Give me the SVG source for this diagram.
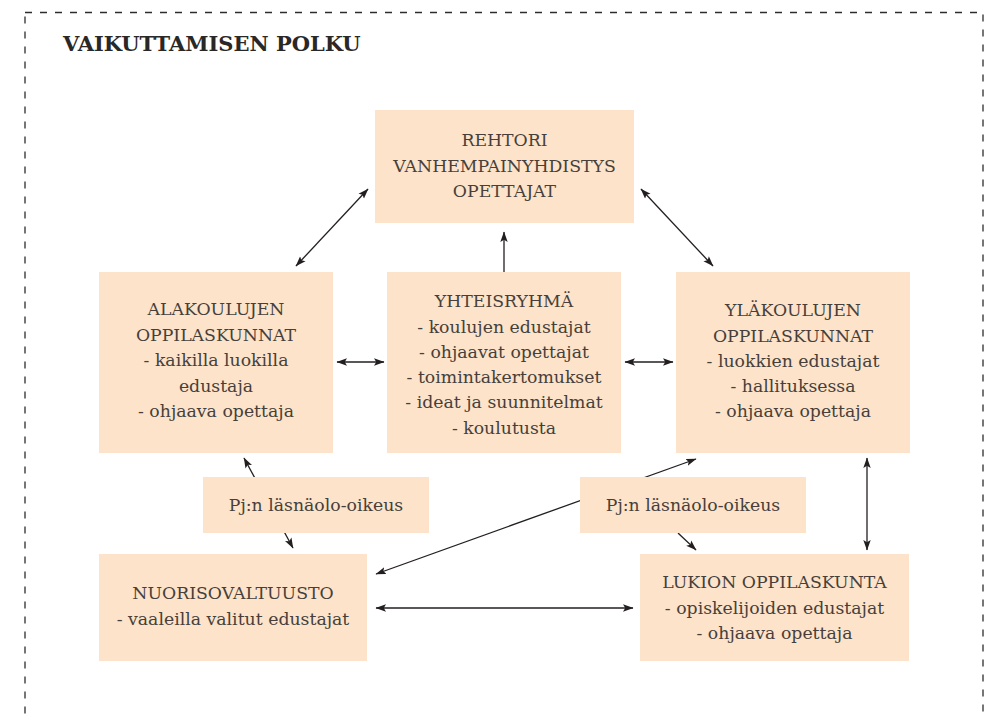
<svg xmlns="http://www.w3.org/2000/svg" width="991" height="719" viewBox="0 0 991 719">
<style>
.box{fill:#fde3c9;}
.t{font-family:"DejaVu Serif","Liberation Serif",serif;font-size:17.3px;fill:#463f3b;text-anchor:middle;}
.title{font-family:"DejaVu Serif","Liberation Serif",serif;font-size:21px;font-weight:bold;fill:#2a2727;}
.c{stroke:#231f20;stroke-width:1.3;fill:none;}
.d{marker-start:url(#ah);marker-end:url(#ah);}
.s{marker-end:url(#ah);}
</style>
<defs>
<marker id="ah" markerUnits="userSpaceOnUse" markerWidth="11" markerHeight="8" refX="10" refY="4" orient="auto-start-reverse" viewBox="0 0 11 8">
<path d="M0,0.3 L10.5,4 L0,7.7 L2.2,4 z" fill="#231f20"/>
</marker>
</defs>
<rect x="25" y="12.5" width="958" height="720" fill="none" stroke="#2f2c2c" stroke-width="1.3" stroke-dasharray="7 8"/>
<text class="title" x="63" y="51">VAIKUTTAMISEN POLKU</text>
<g id="connectors">
<line class="c d" x1="296" y1="266" x2="368" y2="189"/>
<line class="c d" x1="641" y1="189" x2="713" y2="266"/>
<line class="c s" x1="504" y1="272" x2="504" y2="232"/>
<line class="c d" x1="337" y1="362" x2="384" y2="362"/>
<line class="c d" x1="625" y1="362" x2="673" y2="362"/>
<line class="c d" x1="244" y1="458" x2="293" y2="548"/>
<line class="c d" x1="376" y1="574" x2="696" y2="459"/>
<line class="c s" x1="678" y1="533" x2="696" y2="550"/>
<line class="c d" x1="867" y1="458" x2="867" y2="550"/>
<line class="c d" x1="376" y1="608" x2="633" y2="608"/>
</g>
<g id="rehtori">
<rect class="box" x="375" y="110" width="259" height="113"/>
<text class="t" x="504.5" y="146">REHTORI</text>
<text class="t" x="504.5" y="172">VANHEMPAINYHDISTYS</text>
<text class="t" x="504.5" y="197">OPETTAJAT</text>
</g>
<g id="alakoulut">
<rect class="box" x="99" y="272" width="234" height="181"/>
<text class="t" x="216" y="315">ALAKOULUJEN</text>
<text class="t" x="216" y="340.5">OPPILASKUNNAT</text>
<text class="t" x="216" y="366">- kaikilla luokilla</text>
<text class="t" x="216" y="391.5">edustaja</text>
<text class="t" x="216" y="417">- ohjaava opettaja</text>
</g>
<g id="yhteisryhma">
<rect class="box" x="387" y="272" width="234" height="181"/>
<text class="t" x="504" y="307">YHTEISRYHMÄ</text>
<text class="t" x="504" y="332.5">- koulujen edustajat</text>
<text class="t" x="504" y="358">- ohjaavat opettajat</text>
<text class="t" x="504" y="383">- toimintakertomukset</text>
<text class="t" x="504" y="408">- ideat ja suunnitelmat</text>
<text class="t" x="504" y="434">- koulutusta</text>
</g>
<g id="ylakoulut">
<rect class="box" x="676" y="272" width="234" height="181"/>
<text class="t" x="793" y="316">YLÄKOULUJEN</text>
<text class="t" x="793" y="341.5">OPPILASKUNNAT</text>
<text class="t" x="793" y="367">- luokkien edustajat</text>
<text class="t" x="793" y="392">- hallituksessa</text>
<text class="t" x="793" y="417">- ohjaava opettaja</text>
</g>
<g id="pj-vasen">
<rect class="box" x="203" y="477" width="226" height="56"/>
<text class="t" x="316" y="511">Pj:n läsnäolo-oikeus</text>
</g>
<g id="pj-oikea">
<rect class="box" x="580" y="477" width="226" height="56"/>
<text class="t" x="693" y="511">Pj:n läsnäolo-oikeus</text>
</g>
<g id="nuorisovaltuusto">
<rect class="box" x="99" y="554" width="268" height="107"/>
<text class="t" x="233" y="599">NUORISOVALTUUSTO</text>
<text class="t" x="233" y="625">- vaaleilla valitut edustajat</text>
</g>
<g id="lukio">
<rect class="box" x="640" y="554" width="269" height="107"/>
<text class="t" x="774.5" y="588">LUKION OPPILASKUNTA</text>
<text class="t" x="774.5" y="613.5">- opiskelijoiden edustajat</text>
<text class="t" x="774.5" y="639">- ohjaava opettaja</text>
</g>
</svg>
